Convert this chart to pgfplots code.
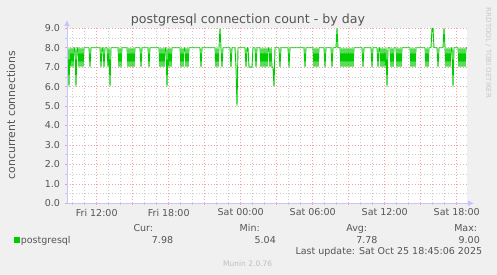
\documentclass[border=0pt]{standalone}
\usepackage{fontspec}
\setmainfont{DejaVu Sans}
\usepackage{pgfplots}
\pgfplotsset{compat=1.18}
\definecolor{bgc}{HTML}{F0F0F0}
\definecolor{txt}{HTML}{555555}
\definecolor{mgrid}{HTML}{F2A4A4}
\definecolor{ngrid}{HTML}{CCCCCC}
\definecolor{axc}{HTML}{C4C4FF}
\definecolor{munin}{HTML}{00CC00}
\begin{document}
\begin{tikzpicture}[x=1pt,y=1pt]
\fill[bgc] (0,0) rectangle (497,275);
\begin{axis}[
  at={(67pt,71.7pt)}, anchor=south west,
  width=400pt, height=175pt, scale only axis,
  xmin=0, xmax=400, ymin=0, ymax=9,
  axis lines=left,
  axis line style={draw=none,-},
  axis background/.style={fill=white},
  clip=false,
  xtick={29.7,65.7,101.7,137.7,173.7,209.7,245.7,281.7,317.7,353.7,389.7},
  xticklabels={Fri 12:00,,Fri 18:00,,Sat 00:00,,Sat 06:00,,Sat 12:00,,Sat 18:00},
  minor xtick={5.7,17.7,...,400},
  ytick={0,1,...,9},
  minor ytick={0.5,1.5,...,8.5},
  grid=both,
  major grid style={mgrid, line width=0.7pt, dash pattern=on 0.8pt off 2.2pt},
  minor grid style={ngrid, line width=0.7pt, dash pattern=on 0.8pt off 2.2pt},
  tick align=outside,
  major tick length=2pt, minor tick length=2pt,
  major tick style={mgrid, line width=0.7pt},
  minor tick style={ngrid, line width=0.7pt},
  /pgf/number format/assume math mode=true,
  yticklabel style={/pgf/number format/fixed,/pgf/number format/fixed zerofill,/pgf/number format/precision=1,
     font=\fontsize{9.5}{11}\selectfont, text=txt, xshift=-1.5pt},
  xticklabel style={font=\fontsize{9.5}{11}\selectfont, text=txt},
]
\addplot[munin, line width=0.9pt] coordinates {
(0,8)(1,8)(2,6)(3,8)(4,7)(5,8)(6,7)(7,8)(8,8)(9,6)(10,8)(11,8)(12,7)(13,8)(14,7)(15,8)(16,7)(17,8)(22,8)(23,7)(24,8)(33,8)(34,7)(35,8)(36,8)(37,7)(38,8)(40,8)(41,7)(42,8)(43,6)(44,8)(51,8)(52,7)(53,8)(54,7)(55,8)(60,8)(61,7)(62,8)(63,7)(64,8)(65,7)(66,8)(67,7)(68,8)(73,8)(74,7)(75,8)(81,8)(82,7)(83,8)(92,8)(93,7)(94,8)(95,7)(96,8)(97,7)(98,8)(99,8)(100,6)(101,8)(102,7)(103,8)(104,7)(105,8)(113,8)(114,7)(115,8)(116,7)(117,8)(118,8)(119,7)(120,8)(121,7)(122,8)(133,8)(134,7)(135,8)(148,8)(149,7)(150,8)(151,7)(152,8)(153,9)(154,8)(155,7)(156,8)(163,8)(164,7)(165,8)(168,8)(169,7)(170,5)(171,8)(178,8)(179,7)(180,8)(181,8)(182,7)(185,7)(186,8)(188,8)(189,7)(190,8)(193,8)(194,7)(195,8)(196,7)(197,8)(198,7)(199,8)(200,7)(201,8)(202,8)(203,7)(204,8)(205,7)(206,7)(207,6)(208,8)(212,8)(213,7)(214,8)(221,8)(222,7)(223,8)(237,8)(238,7)(239,8)(246,8)(247,7)(248,8)(249,7)(250,8)(251,7)(252,8)(257,8)(258,7)(259,8)(264,8)(265,7)(266,8)(269,8)(270,9)(271,8)(273,8)(274,7)(275,8)(276,7)(277,8)(278,7)(279,8)(280,7)(281,8)(282,7)(283,8)(284,7)(285,8)(286,7)(287,8)(295,8)(296,7)(297,8)(304,8)(305,7)(306,8)(310,8)(311,7)(312,8)(313,8)(314,7)(315,8)(316,7)(317,8)(318,7)(319,8)(320,6)(321,8)(323,8)(324,7)(325,8)(326,7)(327,8)(329,8)(330,7)(331,8)(332,7)(333,8)(334,7)(335,8)(343,8)(344,7)(345,8)(346,7)(347,8)(348,7)(349,8)(358,8)(359,7)(360,8)(361,7)(362,8)(364,8)(365,9)(366,9)(367,8)(370,8)(371,7)(372,8)(376,8)(377,9)(378,8)(379,7)(380,8)(381,7)(382,8)(383,7)(384,8)(385,8)(386,6)(387,8)(391,8)(392,7)(393,8)(394,7)(395,8)(396,7)(397,8)(398,7)(399,8)(400,7.98)
};
\end{axis}
% axis arrows
\draw[axc, line width=1pt] (67,71.7) -- (469,71.7);
\fill[axc] (468,69) -- (473.5,71.7) -- (468,74.4) -- cycle;
\draw[axc, line width=1pt] (67,71.7) -- (67,250);
\fill[axc] (64.3,249) -- (67,254.5) -- (69.7,249) -- cycle;
% title and labels
\node[anchor=base, inner sep=0, text=txt, font=\fontsize{12.6}{14}\selectfont] at (248,251.7) {postgresql connection count - by day};
\node[rotate=90, inner sep=0, text=txt, font=\fontsize{10.9}{12}\selectfont] at (11,160) {concurrent connections};
\node[rotate=-90, inner sep=0, text={rgb,255:red,200;green,200;blue,200}, font=\fontsize{7}{8}\selectfont] at (488.5,222) {RRDTOOL / TOBI OETIKER};
% legend
\begin{scope}[every node/.style={inner sep=0, text=txt, font=\fontsize{9.5}{11}\selectfont}]
\fill[munin] (14,32) rectangle (20,38);
\node[anchor=base west] at (20.7,31.7) {postgresql};
\node[anchor=base east] at (153.3,43.3) {Cur:};
\node[anchor=base east] at (260,43.3) {Min:};
\node[anchor=base east] at (367.3,43.3) {Avg:};
\node[anchor=base east] at (477.3,43.3) {Max:};
\node[anchor=base east] at (173.3,31.7) {7.98};
\node[anchor=base east] at (276,31.7) {5.04};
\node[anchor=base east] at (377.7,31.7) {7.78};
\node[anchor=base east] at (480,31.7) {9.00};
\node[anchor=base east] at (482.3,20.7) {Last update: Sat Oct 25 18:45:06 2025};
\end{scope}
\node[anchor=base, inner sep=0, text={rgb,255:red,190;green,190;blue,190}, font=\fontsize{7.5}{9}\selectfont] at (247.7,8.3) {Munin 2.0.76};
\end{tikzpicture}
\end{document}
